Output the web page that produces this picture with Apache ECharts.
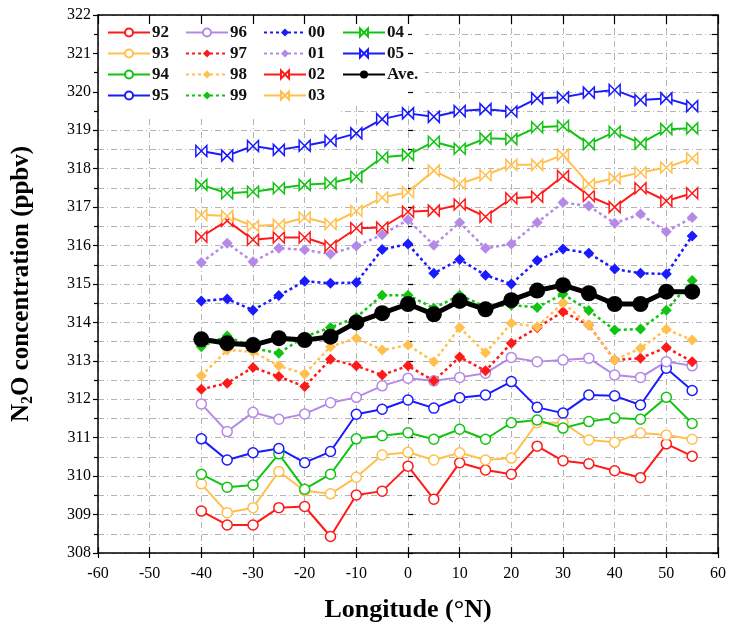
<!DOCTYPE html>
<html>
<head>
<meta charset="utf-8">
<script src="https://cdn.jsdelivr.net/npm/echarts@6/dist/echarts.min.js"></script>
<style>
  html, body { margin: 0; padding: 0; background: #fff; }
  #chart { width: 729px; height: 630px; }
</style>
</head>
<body>
<div id="chart"></div>
<script>
// Longitudes of the sampling bins (°N axis as labelled)
var longitudes = [-40, -35, -30, -25, -20, -15, -10, -5, 0, 5, 10, 15, 20, 25, 30, 35, 40, 45, 50, 55];

// Yearly N2O concentrations (ppbv) per longitude bin
var y92 = [309.09, 308.73, 308.73, 309.18, 309.21, 308.43, 309.51, 309.61, 310.26, 309.40, 310.35, 310.16, 310.05, 310.78, 310.40, 310.32, 310.14, 309.96, 310.84, 310.52];
var y93 = [309.80, 309.05, 309.18, 310.12, 309.62, 309.54, 309.97, 310.55, 310.62, 310.42, 310.61, 310.42, 310.47, 311.39, 311.39, 310.94, 310.88, 311.12, 311.07, 310.96];
var y94 = [310.05, 309.71, 309.77, 310.58, 309.66, 310.05, 310.97, 311.05, 311.13, 310.96, 311.22, 310.96, 311.39, 311.46, 311.25, 311.42, 311.51, 311.48, 312.05, 311.37];
var y95 = [310.97, 310.42, 310.61, 310.72, 310.35, 310.64, 311.61, 311.74, 311.98, 311.77, 312.04, 312.11, 312.46, 311.79, 311.64, 312.11, 312.09, 311.85, 312.81, 312.23];
var y96 = [311.88, 311.16, 311.66, 311.48, 311.62, 311.91, 312.05, 312.35, 312.55, 312.48, 312.57, 312.68, 313.09, 312.98, 313.02, 313.07, 312.63, 312.57, 312.98, 312.87];
var y97 = [312.26, 312.42, 312.83, 312.59, 312.33, 313.04, 312.87, 312.63, 312.87, 312.48, 313.10, 312.74, 313.46, 313.86, 314.28, 313.93, 313.02, 313.07, 313.35, 312.98];
var y98 = [312.61, 313.28, 313.24, 312.87, 312.66, 313.37, 313.59, 313.28, 313.41, 312.98, 313.87, 313.21, 313.98, 313.89, 314.51, 313.93, 313.02, 313.33, 313.82, 313.54];
var y99 = [313.37, 313.65, 313.33, 313.20, 313.63, 313.87, 314.13, 314.71, 314.71, 314.37, 314.71, 314.41, 314.45, 314.39, 314.74, 314.31, 313.80, 313.83, 314.32, 315.09];
var y00 = [314.56, 314.61, 314.32, 314.70, 315.07, 315.02, 315.04, 315.90, 316.04, 315.28, 315.64, 315.23, 315.00, 315.61, 315.91, 315.80, 315.39, 315.28, 315.26, 316.25];
var y01 = [315.56, 316.06, 315.58, 315.93, 315.89, 315.78, 315.99, 316.28, 316.67, 316.01, 316.60, 315.93, 316.04, 316.60, 317.12, 317.03, 316.58, 316.82, 316.36, 316.73];
var y02 = [316.23, 316.65, 316.15, 316.21, 316.21, 315.99, 316.45, 316.47, 316.88, 316.91, 317.07, 316.75, 317.23, 317.27, 317.81, 317.29, 317.00, 317.49, 317.16, 317.36];
var y03 = [316.80, 316.77, 316.51, 316.54, 316.73, 316.56, 316.90, 317.25, 317.39, 317.95, 317.61, 317.83, 318.10, 318.10, 318.36, 317.60, 317.75, 317.90, 318.03, 318.27];
var y04 = [317.58, 317.36, 317.40, 317.49, 317.58, 317.62, 317.79, 318.30, 318.36, 318.70, 318.52, 318.79, 318.77, 319.08, 319.11, 318.64, 318.96, 318.66, 319.03, 319.05];
var y05 = [318.46, 318.34, 318.59, 318.49, 318.60, 318.73, 318.92, 319.29, 319.44, 319.35, 319.50, 319.55, 319.49, 319.83, 319.86, 319.98, 320.05, 319.79, 319.83, 319.63];
var yAve = [313.56, 313.46, 313.41, 313.59, 313.54, 313.63, 314.00, 314.24, 314.48, 314.21, 314.56, 314.34, 314.58, 314.83, 314.97, 314.76, 314.48, 314.48, 314.80, 314.80];

// Axis ranges / ticks
var xMin = -60, xMax = 60, xStep = 10;
var yMin = 308, yMax = 322, yStep = 1;

var SERIF = '"Liberation Serif", "DejaVu Serif", serif';
var RED = '#ff1a1a', ORANGE = '#ffc04d', GREEN = '#12c412', BLUE = '#1a1aff', PURPLE = '#b48ae6';
var BOWTIE = 'path://M0,0L10,10L10,0L0,10Z';
var DOTS = [3, 3];
var GRID_DASH = [6, 3, 1, 3];

function pairs(vals) {
  return longitudes.map(function (x, i) { return [x, vals[i]]; });
}

function hollow(name, vals, color, symbol, size) {
  return {
    name: name, type: 'line', data: pairs(vals),
    symbol: symbol, symbolSize: size,
    lineStyle: { color: color, width: 2 },
    itemStyle: { color: '#fff', borderColor: color, borderWidth: 1.5 },
    emphasis: { disabled: true }, animation: false
  };
}
function dotted(name, vals, color) {
  return {
    name: name, type: 'line', data: pairs(vals),
    symbol: 'diamond', symbolSize: 11,
    lineStyle: { color: color, width: 2.5, type: DOTS },
    itemStyle: { color: color },
    emphasis: { disabled: true }, animation: false
  };
}

var series = [
  hollow('92', y92, RED, 'circle', 10),
  hollow('93', y93, ORANGE, 'circle', 10),
  hollow('94', y94, GREEN, 'circle', 10),
  hollow('95', y95, BLUE, 'circle', 10),
  hollow('96', y96, PURPLE, 'circle', 10),
  dotted('97', y97, RED),
  dotted('98', y98, ORANGE),
  dotted('99', y99, GREEN),
  dotted('00', y00, BLUE),
  dotted('01', y01, PURPLE),
  hollow('02', y02, RED, BOWTIE, 11),
  hollow('03', y03, ORANGE, BOWTIE, 11),
  hollow('04', y04, GREEN, BOWTIE, 11),
  hollow('05', y05, BLUE, BOWTIE, 11),
  {
    name: 'Ave.', type: 'line', data: pairs(yAve),
    symbol: 'circle', symbolSize: 16,
    lineStyle: { color: '#000', width: 5 },
    itemStyle: { color: '#000' },
    emphasis: { disabled: true }, animation: false
  }
];

function legendCol(left, names) {
  return {
    data: names, orient: 'vertical', left: left, top: 24,
    padding: 0, itemWidth: 42, itemHeight: 10, itemGap: 4,
    selectedMode: false, z: 5,
    textStyle: { fontFamily: SERIF, fontSize: 17, fontWeight: 'bold', color: '#111', padding: [0, 0, 0, -3] }
  };
}

var gridLine = { show: true, lineStyle: { color: '#b4b4b4', width: 1, type: GRID_DASH } };
var tickStyle = { color: '#000', width: 1.2 };

var option = {
  backgroundColor: '#fff',
  animation: false,
  grid: { left: 98, right: 9, top: 15, bottom: 77, containLabel: false },
  legend: [
    legendCol(107, ['92', '93', '94', '95']),
    legendCol(185, ['96', '97', '98', '99']),
    legendCol(263, ['00', '01', '02', '03']),
    legendCol(342, ['04', '05', 'Ave.'])
  ],
  graphic: [
    { type: 'rect', z: 1, silent: true, shape: { x: 99, y: 16, width: 326, height: 88 }, style: { fill: '#fff' } },
    { type: 'rect', z: 1, silent: true, shape: { x: 99, y: 100, width: 241, height: 18 }, style: { fill: '#fff' } }
  ],
  xAxis: [
    {
      type: 'value', position: 'bottom', min: xMin, max: xMax, interval: xStep, z: 3,
      name: 'Longitude (°N)', nameLocation: 'middle', nameGap: 44,
      nameTextStyle: { fontFamily: SERIF, fontSize: 26, fontWeight: 'bold', color: '#000' },
      axisLine: { show: true, onZero: false, lineStyle: { color: '#000', width: 1.5 } },
      axisTick: { show: true, inside: false, length: 5, lineStyle: tickStyle },
      axisLabel: { fontFamily: SERIF, fontSize: 16, color: '#000', margin: 13 },
      splitLine: { show: false }
    },
    {
      type: 'value', position: 'bottom', min: xMin, max: xMax, interval: xStep, z: 3,
      axisLine: { show: false }, axisLabel: { show: false },
      axisTick: { show: true, inside: true, length: 6, lineStyle: tickStyle },
      splitLine: { show: false }
    },
    {
      type: 'value', position: 'top', min: xMin, max: xMax, interval: xStep, z: 3,
      axisLine: { show: true, onZero: false, lineStyle: { color: '#000', width: 1.5 } }, axisLabel: { show: false },
      axisTick: { show: true, inside: true, length: 9, lineStyle: tickStyle },
      splitLine: { show: false }
    },
    {
      type: 'value', position: 'bottom', min: xMin, max: xMax, interval: xStep, z: 0,
      axisLine: { show: false }, axisLabel: { show: false }, axisTick: { show: false },
      splitLine: gridLine
    }
  ],
  yAxis: [
    {
      type: 'value', position: 'left', min: yMin, max: yMax, interval: yStep, z: 3,
      name: '{b|N}{s|2}{b|O concentration (ppbv)}', nameLocation: 'middle', nameGap: 62, nameRotate: 90,
      nameTextStyle: {
        fontFamily: SERIF, fontSize: 25, fontWeight: 'bold', color: '#000',
        rich: {
          b: { fontFamily: SERIF, fontSize: 25, fontWeight: 'bold', color: '#000', lineHeight: 28 },
          s: { fontFamily: SERIF, fontSize: 16, fontWeight: 'bold', color: '#000', lineHeight: 16, verticalAlign: 'bottom', padding: [9, 0, 0, 0] }
        }
      },
      axisLine: { show: true, onZero: false, lineStyle: { color: '#000', width: 1.5 } },
      axisTick: { show: true, inside: false, length: 5, lineStyle: tickStyle },
      minorTick: { show: true, splitNumber: 2, length: 4, lineStyle: tickStyle },
      axisLabel: { fontFamily: SERIF, fontSize: 16, color: '#000', margin: 7 },
      splitLine: { show: false }
    },
    {
      type: 'value', position: 'left', min: yMin, max: yMax, interval: yStep, z: 3,
      axisLine: { show: false }, axisLabel: { show: false },
      axisTick: { show: true, inside: true, length: 5, lineStyle: tickStyle },
      minorTick: { show: true, splitNumber: 2, length: 4, lineStyle: tickStyle },
      splitLine: { show: false }
    },
    {
      type: 'value', position: 'right', min: yMin, max: yMax, interval: yStep, z: 3,
      axisLine: { show: true, onZero: false, lineStyle: { color: '#000', width: 1.5 } }, axisLabel: { show: false },
      axisTick: { show: true, inside: true, length: 6, lineStyle: tickStyle },
      minorTick: { show: true, splitNumber: 2, length: 6, lineStyle: tickStyle },
      splitLine: { show: false }
    },
    {
      type: 'value', position: 'left', min: yMin, max: yMax, interval: yStep, z: 0,
      axisLine: { show: false }, axisLabel: { show: false }, axisTick: { show: false },
      splitLine: gridLine,
      minorTick: { show: false, splitNumber: 2 },
      minorSplitLine: gridLine
    }
  ],
  series: series
};

var chart = echarts.init(document.getElementById('chart'), null, { renderer: 'canvas' });
chart.setOption(option);
</script>
</body>
</html>
